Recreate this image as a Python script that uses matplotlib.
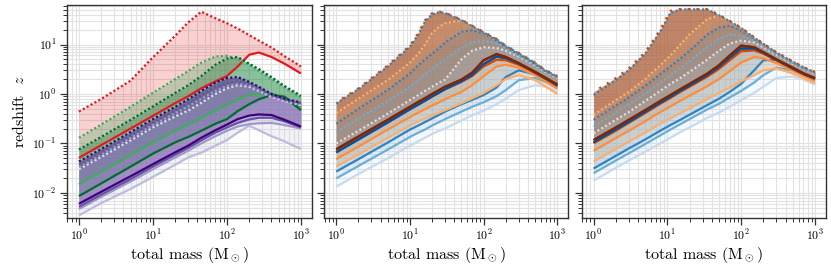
import matplotlib
matplotlib.use("Agg")
import matplotlib.pyplot as plt
import numpy as np

# ---------------- data ----------------
p1_mass = [1, 2, 5, 10, 20, 30, 45, 70, 100, 140, 200, 270, 400, 600, 1000]
p1_red_solid = [0.051, 0.092, 0.2, 0.36, 0.65, 0.9, 1.3, 1.8, 2.3, 3.6, 6.2, 6.9, 5.6, 4.1, 2.6]
p1_red_dotted = [0.44, 0.79, 1.86, 5.5, 15, 28, 46, 34, 27, 21, 15.5, 12, 8.7, 5.8, 3.6]
p1_g1_solid = [0.015, 0.027, 0.058, 0.105, 0.18, 0.24, 0.33, 0.46, 0.6, 0.77, 0.95, 1.02, 1.03, 0.82, 0.5]
p1_g2_solid = [0.0086, 0.0155, 0.034, 0.062, 0.105, 0.135, 0.18, 0.25, 0.31, 0.45, 0.62, 0.78, 0.95, 0.88, 0.47]
p1_g1_dotted = [0.13, 0.24, 0.55, 1.05, 2.0, 2.9, 4.3, 5.7, 5.9, 5.1, 3.9, 2.9, 2.0, 1.35, 0.85]
p1_g2_dotted = [0.075, 0.135, 0.3, 0.56, 1.05, 1.5, 2.3, 3.9, 5.2, 5.6, 4.1, 3.2, 2.2, 1.45, 0.92]
p1_p1_solid = [0.006, 0.0105, 0.0217, 0.038, 0.066, 0.09, 0.13, 0.185, 0.24, 0.31, 0.365, 0.385, 0.375, 0.3, 0.22]
p1_p2_solid = [0.0052, 0.0092, 0.019, 0.034, 0.059, 0.081, 0.115, 0.165, 0.21, 0.26, 0.305, 0.33, 0.33, 0.28, 0.21]
p1_p3_solid = [0.0047, 0.0083, 0.017, 0.03, 0.052, 0.071, 0.1, 0.14, 0.18, 0.22, 0.245, 0.255, 0.26, 0.235, 0.2]
p1_p4_solid = [0.0035, 0.0062, 0.012, 0.021, 0.037, 0.052, 0.065, 0.09, 0.117, 0.165, 0.228, 0.185, 0.14, 0.11, 0.077]
p1_p1_dotted = [0.043, 0.077, 0.17, 0.31, 0.55, 0.78, 1.15, 1.7, 2.1, 2.2, 1.75, 1.4, 1.0, 0.8, 0.67]
p1_p2_dotted = [0.037, 0.066, 0.145, 0.265, 0.47, 0.66, 0.95, 1.4, 1.7, 1.8, 1.6, 1.3, 0.95, 0.77, 0.65]
p1_p3_dotted = [0.033, 0.059, 0.13, 0.235, 0.41, 0.56, 0.8, 1.15, 1.45, 1.6, 1.5, 1.2, 0.9, 0.75, 0.63]
p1_p4_dotted = [0.03, 0.053, 0.115, 0.21, 0.35, 0.46, 0.66, 1.0, 1.3, 1.5, 1.4, 1.15, 0.87, 0.72, 0.6]

p2_mass = [1, 2, 5, 10, 13, 16, 20, 25, 30, 50, 70, 100, 150, 200, 300, 500, 700, 1000]
p2_top_orange_dotted = [0.68, 1.3, 3.8, 9.5, 17, 31, 43, 46, 44, 32, 24, 18, 13, 9.5, 6.8, 4.3, 3.0, 2.3]
p2_top_blue_dotted = [0.64, 1.25, 3.6, 9.0, 16, 29, 41, 45, 43.5, 31, 23.5, 17.5, 12.7, 9.3, 6.6, 4.2, 2.95, 2.25]
p2_o4_dotted = [0.41, 0.8, 1.9, 4.3, 6.5, 10, 17, 23, 27, 31, 23, 17.2, 12.4, 9.1, 6.5, 4.1, 2.9, 2.2]
p2_b2_dotted = [0.25, 0.5, 1.2, 2.6, 3.8, 5.0, 6.5, 8.5, 11, 18, 19.5, 16.5, 12, 8.9, 6.3, 4.0, 2.85, 2.2]
p2_b3_dotted = [0.17, 0.32, 0.72, 1.4, 1.9, 2.5, 3.2, 4.2, 5.0, 8.5, 11, 12, 10.5, 8.3, 6.0, 3.9, 2.8, 2.15]
p2_b4_dotted = [0.1, 0.18, 0.4, 0.75, 0.95, 1.15, 1.4, 1.7, 1.95, 5.0, 7.5, 8.8, 8.5, 7.5, 5.7, 3.8, 2.75, 2.1]
p2_o1_solid = [0.076, 0.138, 0.30, 0.55, 0.69, 0.82, 1.0, 1.2, 1.4, 1.95, 2.7, 4.8, 6.4, 5.6, 4.2, 2.8, 2.1, 1.55]
p2_b1_solid = [0.066, 0.12, 0.265, 0.49, 0.61, 0.73, 0.89, 1.07, 1.25, 1.8, 2.4, 4.0, 5.7, 5.3, 4.1, 2.75, 2.05, 1.5]
p2_o2_solid = [0.068, 0.123, 0.27, 0.5, 0.62, 0.74, 0.9, 1.08, 1.25, 1.75, 2.3, 3.6, 4.9, 4.8, 3.9, 2.65, 2.0, 1.45]
p2_o3_solid = [0.048, 0.086, 0.19, 0.34, 0.42, 0.49, 0.58, 0.68, 0.78, 1.1, 1.5, 2.3, 3.6, 3.9, 3.4, 2.4, 1.8, 1.3]
p2_o4_solid = [0.034, 0.06, 0.13, 0.23, 0.28, 0.32, 0.37, 0.42, 0.47, 0.65, 0.82, 1.05, 1.5, 2.0, 2.4, 1.9, 1.4, 1.0]
p2_b2_solid = [0.027, 0.048, 0.104, 0.19, 0.23, 0.27, 0.32, 0.38, 0.44, 0.62, 0.76, 0.95, 1.35, 2.2, 3.0, 2.5, 1.9, 1.4]
p2_b3_solid = [0.0196, 0.035, 0.075, 0.135, 0.165, 0.19, 0.23, 0.27, 0.31, 0.44, 0.55, 0.68, 0.9, 1.2, 1.9, 2.1, 1.75, 1.3]
p2_b4_solid = [0.0133, 0.024, 0.05, 0.09, 0.11, 0.13, 0.155, 0.18, 0.2, 0.29, 0.37, 0.46, 0.62, 0.8, 1.2, 1.5, 1.4, 1.15]

p3_mass = [1, 2, 3, 5, 8, 11, 15, 20, 35, 50, 70, 100, 150, 200, 300, 500, 700, 1000]
p3_top_orange_dotted = [1.1, 2.1, 3.3, 7, 20, 48, 52, 52, 52, 40, 30, 22, 14, 10.5, 7, 4.6, 3.5, 2.8]
p3_top_blue_dotted = [0.95, 1.9, 3.0, 6.5, 18, 44, 51, 51.5, 51, 39, 29.5, 21.5, 13.8, 10.3, 6.9, 4.5, 3.45, 2.75]
p3_o4_dotted = [0.38, 0.75, 1.1, 2.0, 3.8, 6, 10, 16, 33, 38, 29, 21, 13.6, 10.2, 6.8, 4.5, 3.4, 2.7]
p3_b2_dotted = [0.3, 0.58, 0.85, 1.45, 2.5, 3.6, 5.2, 7.5, 16, 22, 24, 19, 13, 9.8, 6.6, 4.3, 3.3, 2.65]
p3_b3_dotted = [0.22, 0.42, 0.62, 1.0, 1.7, 2.4, 3.3, 4.6, 9, 13, 16, 15, 12, 9.3, 6.4, 4.2, 3.25, 2.6]
p3_b4_dotted = [0.16, 0.3, 0.43, 0.72, 1.15, 1.6, 2.1, 2.8, 5.0, 7.5, 10.5, 12, 11, 8.8, 6.2, 4.1, 3.2, 2.55]
p3_o1_solid = [0.117, 0.21, 0.3, 0.47, 0.72, 0.95, 1.25, 1.6, 2.6, 3.8, 6.0, 9.5, 8.8, 7.0, 5.0, 3.4, 2.6, 2.1]
p3_b1_solid = [0.105, 0.19, 0.27, 0.43, 0.66, 0.87, 1.15, 1.47, 2.4, 3.5, 5.4, 8.3, 8.3, 6.8, 4.9, 3.3, 2.55, 2.05]
p3_o2_solid = [0.1, 0.18, 0.26, 0.41, 0.63, 0.83, 1.1, 1.4, 2.25, 3.2, 4.8, 7.3, 7.6, 6.5, 4.8, 3.2, 2.5, 2.0]
p3_o3_solid = [0.071, 0.128, 0.18, 0.28, 0.43, 0.56, 0.73, 0.92, 1.45, 2.0, 2.9, 4.3, 5.6, 5.3, 4.2, 3.0, 2.35, 1.85]
p3_o4_solid = [0.043, 0.077, 0.108, 0.165, 0.25, 0.32, 0.41, 0.51, 0.8, 1.05, 1.35, 1.8, 2.4, 3.0, 3.3, 2.6, 2.1, 1.65]
p3_b2_solid = [0.031, 0.056, 0.079, 0.12, 0.18, 0.235, 0.3, 0.38, 0.6, 0.8, 1.1, 1.6, 3.0, 4.8, 4.9, 3.3, 2.6, 2.0]
p3_b3_solid = [0.025, 0.045, 0.063, 0.097, 0.145, 0.19, 0.245, 0.31, 0.49, 0.63, 0.85, 1.15, 1.7, 2.4, 3.4, 3.0, 2.4, 1.9]
p3_b4_solid = [0.0176, 0.032, 0.045, 0.068, 0.1, 0.13, 0.17, 0.21, 0.33, 0.42, 0.55, 0.75, 1.05, 1.4, 2.1, 2.25, 1.95, 1.55]

x_ticks = [1, 10, 100, 1000]
y_ticks = [0.01, 0.1, 1, 10]

# ---------------- style ----------------
plt.rcParams.update({
    "font.family": "serif",
    "font.serif": ["cmr10"],
    "mathtext.fontset": "cm",
    "axes.formatter.use_mathtext": True,
    "axes.unicode_minus": False,
})

RED = "#e31a1c"
G1, G2 = "#41ab5d", "#006d2c"
P = ["#3f007d", "#6a51a3", "#9e9ac8", "#bcbddc"]
P_ALPHA = [0.4, 0.35, 0.2, 0.2]
O = ["#7f2704", "#d94801", "#fd8d3c", "#fdae6b"]
B = ["#08519c", "#3182bd", "#6baed6", "#c6dbef"]
DOT = (0, (1, 1))
LW = 1.6

fig = plt.figure(figsize=(8.31, 2.67), dpi=100)
bottom, height = 0.1835, 0.7978
axs = [fig.add_axes([0.0806, bottom, 0.2945, height]),
       fig.add_axes([0.3903, bottom, 0.2933, height]),
       fig.add_axes([0.7000, bottom, 0.2936, height])]


def fill(ax, m, lo, hi, c, a):
    ax.fill_between(m, lo, hi, color=c, alpha=a, lw=0, zorder=1)


def solid(ax, m, z, c, lw=LW):
    ax.plot(m, z, color=c, lw=lw, zorder=3, solid_capstyle="butt",
            solid_joinstyle="round")


def dotted(ax, m, z, c, lw=LW):
    ax.plot(m, z, color=c, lw=lw, ls=DOT, zorder=4)


# panel 1
ax = axs[0]
m = p1_mass
fill(ax, m, p1_red_solid, p1_red_dotted, RED, 0.2)
fill(ax, m, p1_g1_solid, p1_g1_dotted, G1, 0.3)
fill(ax, m, p1_g2_solid, p1_g2_dotted, G2, 0.3)
for s, d, c, a in zip([p1_p1_solid, p1_p2_solid, p1_p3_solid, p1_p4_solid],
                      [p1_p1_dotted, p1_p2_dotted, p1_p3_dotted, p1_p4_dotted],
                      P, P_ALPHA):
    fill(ax, m, s, d, c, a)
for s, c in zip([p1_p4_solid, p1_p3_solid, p1_p2_solid, p1_p1_solid], P[::-1]):
    solid(ax, m, s, c)
solid(ax, m, p1_g1_solid, G1)
solid(ax, m, p1_g2_solid, G2)
solid(ax, m, p1_red_solid, RED)
dotted(ax, m, p1_p4_dotted, "#dcdcec")
dotted(ax, m, p1_p3_dotted, P[2])
dotted(ax, m, p1_p2_dotted, P[1])
dotted(ax, m, p1_p1_dotted, P[0])
dotted(ax, m, p1_g1_dotted, G1)
dotted(ax, m, p1_g2_dotted, G2)
dotted(ax, m, p1_red_dotted, RED)

# panels 2, 3
for ax, m, top_o, top_b, o4d, b2d, b3d, b4d, os_, bs_ in [
    (axs[1], p2_mass, p2_top_orange_dotted, p2_top_blue_dotted, p2_o4_dotted,
     p2_b2_dotted, p2_b3_dotted, p2_b4_dotted,
     [p2_o1_solid, p2_o2_solid, p2_o3_solid, p2_o4_solid],
     [p2_b1_solid, p2_b2_solid, p2_b3_solid, p2_b4_solid]),
    (axs[2], p3_mass, p3_top_orange_dotted, p3_top_blue_dotted, p3_o4_dotted,
     p3_b2_dotted, p3_b3_dotted, p3_b4_dotted,
     [p3_o1_solid, p3_o2_solid, p3_o3_solid, p3_o4_solid],
     [p3_b1_solid, p3_b2_solid, p3_b3_solid, p3_b4_solid]),
]:
    for s, d, c in zip(os_, [top_o, top_o, top_o, o4d], O):
        fill(ax, m, s, d, c, 0.33)
    for s, d, c in zip(bs_, [top_b, b2d, b3d, b4d], B):
        fill(ax, m, s, d, c, 0.16)
    for s, c in zip(bs_[::-1], B[::-1]):
        solid(ax, m, s, c)
    for s, c in zip(os_[::-1], O[::-1]):
        solid(ax, m, s, c)
    solid(ax, m, bs_[0], B[0])
    solid(ax, m, os_[0], O[0])
    dotted(ax, m, b4d, "#dcdcdc")
    dotted(ax, m, b3d, B[2])
    dotted(ax, m, b2d, B[1])
    dotted(ax, m, o4d, O[3])
    dotted(ax, m, top_b, B[1])
    ax.plot(m, top_o, color=O[1], lw=LW, ls=(1, (1, 3)), zorder=5)

for i, ax in enumerate(axs):
    ax.set_xscale("log")
    ax.set_yscale("log")
    ax.set_xlim(0.69, 1400)
    ax.set_ylim(0.0031, 63)
    ax.set_xticks(x_ticks)
    ax.set_yticks(y_ticks)
    ax.grid(True, which="both", color="#e2e2e2", lw=0.8, zorder=0)
    ax.set_axisbelow(True)
    ax.tick_params(which="major", direction="out", length=5, width=0.9,
                   color="#333333", labelsize=8.5, pad=2.5)
    ax.tick_params(which="minor", direction="out", length=3, width=0.7,
                   color="#333333")
    for sp in ax.spines.values():
        sp.set_color("#333333")
        sp.set_linewidth(1.0)
    ax.set_xlabel(r"total mass (M$_\odot$)", fontsize=11.5, labelpad=1)
    if i == 0:
        ax.set_ylabel(r"redshift  $z$", fontsize=11.5, labelpad=4)
    else:
        ax.tick_params(labelleft=False)

fig.savefig("out.png", dpi=100)
